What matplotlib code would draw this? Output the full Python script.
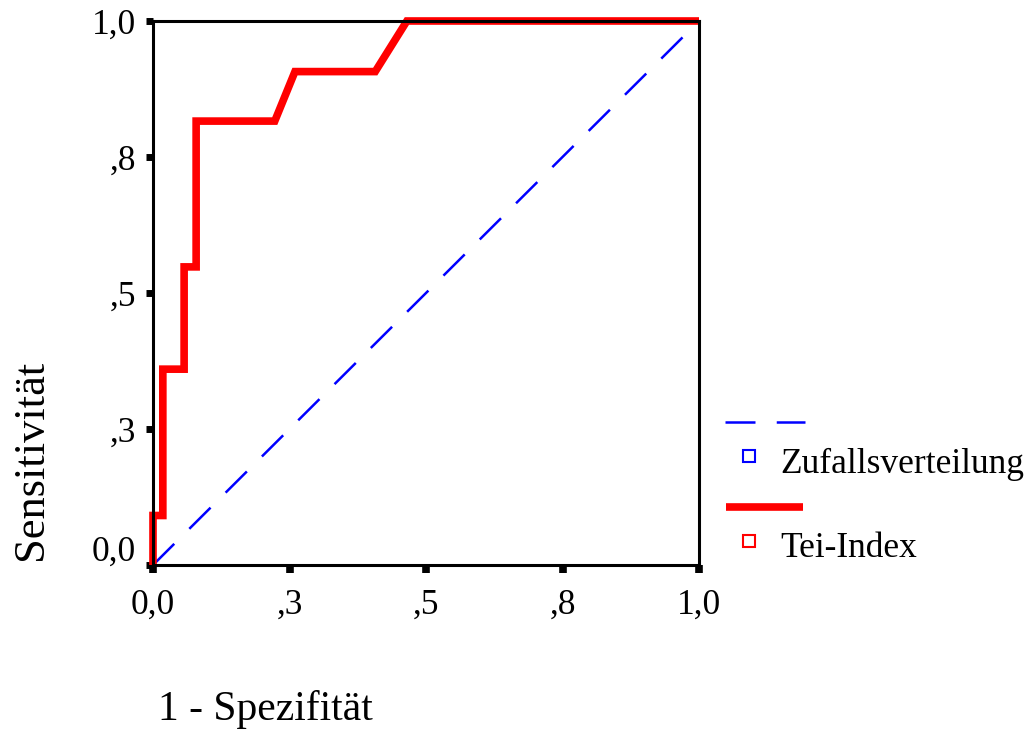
import numpy as np
import matplotlib
matplotlib.use("Agg")
import matplotlib.pyplot as plt
from matplotlib.lines import Line2D
from matplotlib.transforms import ScaledTranslation

plt.rcParams['font.family'] = ['Liberation Serif', 'DejaVu Serif']

# ROC curve (1 - Spezifitaet, Sensitivitaet)
fpr = [0.0, 0.0, 0.018, 0.018, 0.057, 0.057, 0.079, 0.079, 0.223, 0.260, 0.407, 0.465, 1.0]
tpr = [0.0, 0.091, 0.091, 0.360, 0.360, 0.548, 0.548, 0.816, 0.816, 0.907, 0.907, 1.0, 1.0]
diag = [0.0, 1.0]

ticks = [0.0, 0.25, 0.5, 0.75, 1.0]
tick_labels = ['0,0', ',3', ',5', ',8', '1,0']
series_names = ['Zufallsverteilung', 'Tei-Index']

W, H = 1029, 736
fig = plt.figure(figsize=(W / 100, H / 100), dpi=100)

def px(x, y):
    return x / W, 1 - y / H

ax = fig.add_axes([153 / W, 1 - 565 / H, 546 / W, 544 / H])

ax.plot(diag, diag, color='#0000ff', lw=1.8, dashes=(12, 8.5), clip_on=False)
ax.plot(fpr, tpr, color='#ff0000', lw=5.5, solid_joinstyle='miter',
        solid_capstyle='butt', clip_on=False)

ax.set_xlim(0, 1)
ax.set_ylim(0, 1)
ax.set_xticks(ticks)
ax.set_yticks(ticks)
ax.set_xticklabels(tick_labels)
ax.set_yticklabels(tick_labels)
for s in ax.spines.values():
    s.set_linewidth(2.2)
    s.set_color('black')
ax.tick_params(axis='y', direction='out', length=5, width=5, pad=7, labelsize=25.5)
ax.tick_params(axis='x', direction='out', length=6, width=5.5, pad=11, labelsize=25.5)

# SPSS lifts the lowest y label clear of the x labels
lab0 = ax.get_yticklabels()[0]
lab0.set_transform(lab0.get_transform() + ScaledTranslation(0, 0.17, fig.dpi_scale_trans))

# axis titles
fig.text(158 / W, 1 - 720 / H, '1 - Spezifität', fontsize=30, ha='left', va='baseline')
fig.text(31 / W, 1 - 560 / H, 'Sensitivität', fontsize=32, rotation=90,
         ha='center', va='bottom')

# legend in SPSS style: line sample, then marker + name
tf = fig.transFigure
(x0, y0), (x1, _) = px(725, 422), px(805, 422)
fig.add_artist(Line2D([x0, x1], [y0, y0], color='#0000ff', lw=1.8, dashes=(12, 8.5), transform=tf))
mx, my = px(749, 456)
fig.add_artist(Line2D([mx], [my], marker='s', ms=8, mfc='white', mec='#0000ff', mew=1.5, transform=tf))
fig.text(*px(780, 473), series_names[0], fontsize=25.5, ha='left', va='baseline')

(x0, y0), (x1, _) = px(726, 507), px(803, 507)
fig.add_artist(Line2D([x0, x1], [y0, y0], color='#ff0000', lw=5.5, solid_capstyle='butt', transform=tf))
mx, my = px(749, 541)
fig.add_artist(Line2D([mx], [my], marker='s', ms=8, mfc='white', mec='#ff0000', mew=1.5, transform=tf))
fig.text(*px(780, 557), series_names[1], fontsize=25.5, ha='left', va='baseline')

fig.savefig('out.png', dpi=100)
